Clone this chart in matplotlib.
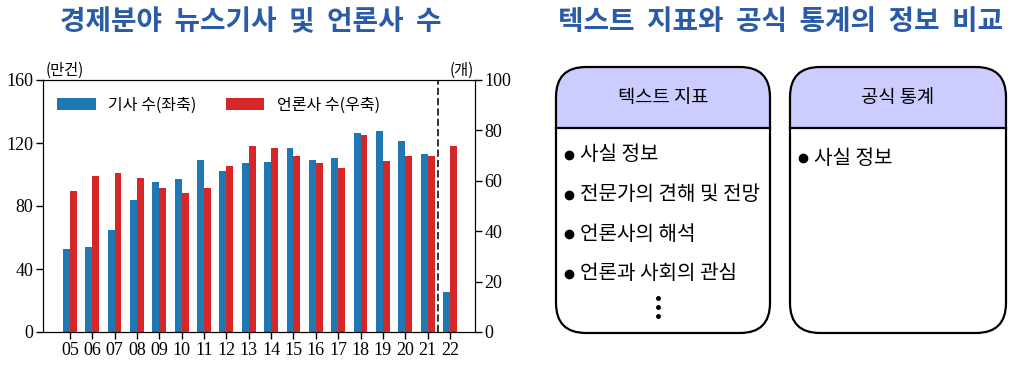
import numpy as np
import matplotlib
matplotlib.use("Agg")
import matplotlib.pyplot as plt
from matplotlib.patches import FancyBboxPatch, Rectangle

years = ["05", "06", "07", "08", "09", "10", "11", "12", "13",
         "14", "15", "16", "17", "18", "19", "20", "21", "22"]
articles = [53, 54, 65, 84, 95, 97, 109, 102, 107,
            108, 117, 109, 110.5, 126.5, 127.5, 121.5, 113, 25.5]  # 만건, left axis
outlets = [56, 62, 63, 61, 57, 55, 57, 66, 74,
           73, 70, 67, 65, 78, 68, 70, 70, 74]  # 개, right axis

left_ticks = [0, 40, 80, 120, 160]
right_ticks = [0, 20, 40, 60, 80, 100]

text_items = ["사실 정보", "전문가의 견해 및 전망", "언론사의 해석", "언론과 사회의 관심"]
stat_items = ["사실 정보"]

KR = ["Noto Sans CJK KR", "DejaVu Sans"]
NUM = "Liberation Serif"
title_color = "#2a5ba6"

fig = plt.figure(figsize=(10.24, 3.7), dpi=100)

# ---- left: bar chart
ax = fig.add_axes([43 / 1024, 1 - 332 / 370, 432 / 1024, 252 / 370])
ax2 = ax.twinx()
x = np.arange(len(years))
w = 0.31
ax.bar(x - w / 2, articles, w, color="#1f77b4", label="기사 수(좌축)")
ax2.bar(x + w / 2, outlets, w, color="#d62728", label="언론사 수(우축)")
ax.set_ylim(0, 160)
ax2.set_ylim(0, 100)
ax.set_xlim(-1.2, len(years) - 1 + 1.12)
ax.set_yticks(left_ticks)
ax2.set_yticks(right_ticks)
ax.set_xticks(x)
ax.set_xticklabels(years)
for a in (ax, ax2):
    for lab in a.get_xticklabels() + a.get_yticklabels():
        lab.set_fontfamily(NUM)
        lab.set_fontsize(13)
    a.tick_params(length=5, width=1, pad=2)
ax.axvline(16.45, color="#333333", linestyle="--", linewidth=1.4)

h1, l1 = ax.get_legend_handles_labels()
h2, l2 = ax2.get_legend_handles_labels()
ax2.legend(h1 + h2, l1 + l2, loc="upper left", ncol=2, frameon=False,
           prop={"family": KR, "size": 11.5}, handlelength=2.4, handleheight=0.8,
           handletextpad=0.8, columnspacing=1.8, bbox_to_anchor=(0.0, 0.99))

fig.text(65 / 1024, 1 - 70 / 370, "(만건)", family=KR, fontsize=11, ha="center", va="center")
fig.text(462 / 1024, 1 - 70 / 370, "(개)", family=KR, fontsize=11, ha="center", va="center")
fig.text(251 / 1024, 1 - 22 / 370, "경제분야  뉴스기사  및  언론사  수", family=KR,
         fontsize=20, fontweight="bold", color=title_color, ha="center", va="center")

# ---- right: comparison diagram, drawn in pixel coordinates
dx = fig.add_axes([540 / 1024, 0, 484 / 1024, 1])
dx.set_xlim(540, 1024)
dx.set_ylim(370, 0)
dx.axis("off")

fig.text(780 / 1024, 1 - 22 / 370, "텍스트  지표와  공식  통계의  정보  비교", family=KR,
         fontsize=20, fontweight="bold", color=title_color, ha="center", va="center")

boxes = [(556, 770, "텍스트 지표", text_items, 155, 39.5),
         (790, 1006, "공식 통계", stat_items, 158, 39.5)]
top, bottom, head = 67, 333, 128
for x0, x1, header, items, y_first, step in boxes:
    outline = FancyBboxPatch((x0, top), x1 - x0, bottom - top,
                             boxstyle="round,pad=0,rounding_size=30",
                             facecolor="white", edgecolor="none")
    dx.add_patch(outline)
    band = Rectangle((x0, top), x1 - x0, head - top, facecolor="#ccccff", edgecolor="none")
    dx.add_patch(band)
    band.set_clip_path(outline)
    frame = FancyBboxPatch((x0, top), x1 - x0, bottom - top,
                           boxstyle="round,pad=0,rounding_size=30",
                           facecolor="none", edgecolor="black", linewidth=1.6)
    dx.add_patch(frame)
    dx.plot([x0, x1], [head, head], color="black", linewidth=1.6)
    dx.text((x0 + x1) / 2, (top + head) / 2, header, family=KR, fontsize=13.5,
            ha="center", va="center")
    for i, item in enumerate(items):
        yy = y_first + i * step
        dx.plot(x0 + 13, yy, "o", color="black", markersize=6)
        dx.text(x0 + 24, yy, item, family=KR, fontsize=14.5, ha="left", va="center")

# vertical ellipsis under the list
dots_y = 298 + np.arange(3) * 9
dx.plot(np.full(3, 658), dots_y, "o", color="black", markersize=2.5, linestyle="none")

fig.savefig("out.png", dpi=100)
